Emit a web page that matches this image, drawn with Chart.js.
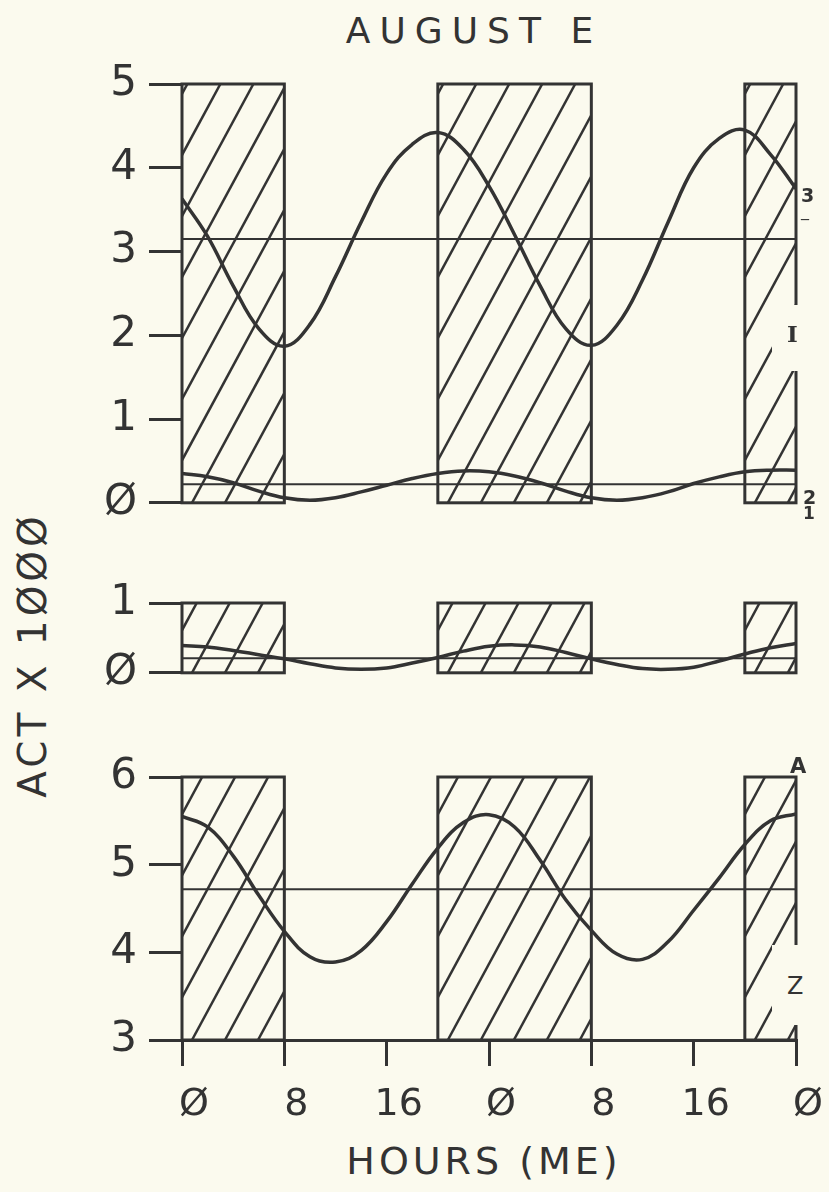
<!DOCTYPE html>
<html>
<head>
<meta charset="utf-8">
<script src="https://cdn.jsdelivr.net/npm/chart.js@4.4.1/dist/chart.umd.min.js"></script>
<style>
    html, body { margin: 0; padding: 0; background: #fbfaee; }
    #page { position: relative; width: 829px; height: 1192px; overflow: hidden; font-family: "DejaVu Sans", sans-serif; color: #333; }
    .wrap { position: absolute; left: 0; width: 829px; }
    .txt { position: absolute; white-space: nowrap; line-height: 1; transform: translate(-50%, -50%); }
    .note { position: absolute; white-space: nowrap; line-height: 1; font-family: "DejaVu Sans", sans-serif; font-weight: bold; color: #333; }
</style>
</head>
<body>
<div id="page">
    <div class="txt" style="left:474px;top:31px;font-size:36px;letter-spacing:9px;">AUGUST E</div>
    <div class="txt" style="left:32px;top:655px;font-size:39px;letter-spacing:4px;transform:translate(-50%,-50%) rotate(-90deg);">ACT X 1ØØØ</div>
    <div class="txt" style="left:484px;top:1161px;font-size:38px;letter-spacing:4px;">HOURS (ME)</div>

    <div class="wrap" style="top:40px;height:500px"><canvas id="chartTop" width="829" height="500"></canvas></div>
    <div class="wrap" style="top:560px;height:150px"><canvas id="chartMid" width="829" height="150"></canvas></div>
    <div class="wrap" style="top:730px;height:420px"><canvas id="chartLow" width="829" height="420"></canvas></div>

    <div class="note" style="left:801px;top:186px;font-size:19px;">3</div>
    <div class="note" style="left:801px;top:203px;font-size:16px;font-weight:normal;">_</div>
    <div class="note" style="left:772px;top:305px;width:30px;height:66px;background:#fbfaee;"></div>
    <div class="note" style="left:787px;top:322px;font-size:23px;font-family:'DejaVu Serif',serif;">I</div>
    <div class="note" style="left:803px;top:488px;font-size:19px;">2</div>
    <div class="note" style="left:803px;top:505px;font-size:17px;">1</div>
    <div class="note" style="left:790px;top:756px;font-size:21px;">A</div>
    <div class="note" style="left:772px;top:945px;width:32px;height:80px;background:#fbfaee;"></div>
    <div class="note" style="left:787px;top:974px;font-size:24px;font-weight:normal;">Z</div>
</div>

<script>
// Hours (two days, every 2 h)
const hours = [0, 2, 4, 6, 8, 10, 12, 14, 16, 18, 20, 22, 24, 26, 28, 30, 32, 34, 36, 38, 40, 42, 44, 46, 48];

// Dark periods (hatched)
const darkStart = [0, 20, 44];
const darkEnd = [8, 32, 48];

// Top panel: two fitted curves and their mesors
const topCurveA = [3.63, 3.18, 2.59, 2.08, 1.87, 2.13, 2.70, 3.35, 3.93, 4.28, 4.42, 4.22, 3.78, 3.20, 2.59, 2.08, 1.88, 2.12, 2.66, 3.35, 4.00, 4.35, 4.45, 4.16, 3.75];
const topCurveB = [0.35, 0.31, 0.24, 0.14, 0.06, 0.03, 0.06, 0.13, 0.21, 0.29, 0.35, 0.38, 0.37, 0.32, 0.24, 0.14, 0.06, 0.03, 0.06, 0.13, 0.23, 0.31, 0.37, 0.39, 0.39];
const topMesorA = 3.15;
const topMesorB = 0.22;

// Middle panel
const midCurve = [0.39, 0.37, 0.32, 0.26, 0.20, 0.13, 0.07, 0.05, 0.07, 0.14, 0.22, 0.31, 0.38, 0.40, 0.37, 0.29, 0.20, 0.12, 0.06, 0.05, 0.08, 0.17, 0.27, 0.36, 0.42];
const midMesor = 0.21;

// Lower panel
const lowCurve = [5.55, 5.43, 5.10, 4.65, 4.24, 3.95, 3.89, 4.02, 4.35, 4.78, 5.19, 5.48, 5.57, 5.43, 5.05, 4.60, 4.25, 3.98, 3.92, 4.12, 4.48, 4.85, 5.23, 5.50, 5.58];
const lowMesor = 4.72;

const INK = '#333333';
const FONT = '"DejaVu Sans", sans-serif';
const PLOT_LEFT = 182;
const HATCH_GAP = 33;
const HATCH_SLOPE = 1.85;

const darkHatch = {
    id: 'darkHatch',
    beforeDatasetsDraw(chart) {
        const { ctx, chartArea: a, scales: { x } } = chart;
        const h = a.bottom - a.top;
        const run = h / HATCH_SLOPE;
        ctx.save();
        ctx.strokeStyle = INK;
        for (let i = 0; i < darkStart.length; i++) {
            const x0 = x.getPixelForValue(darkStart[i]);
            const x1 = x.getPixelForValue(darkEnd[i]);
            ctx.save();
            ctx.beginPath();
            ctx.rect(x0, a.top, x1 - x0, h);
            ctx.clip();
            ctx.lineWidth = 2.5;
            for (let sx = x0 + 10 - Math.ceil(run / HATCH_GAP) * HATCH_GAP; sx < x1; sx += HATCH_GAP) {
                ctx.beginPath();
                ctx.moveTo(sx, a.bottom);
                ctx.lineTo(sx + run, a.top);
                ctx.stroke();
            }
            ctx.restore();
            ctx.lineWidth = 3;
            ctx.strokeRect(x0, a.top, x1 - x0, h);
        }
        ctx.restore();
    }
};

function toPoints(values) {
    return hours.map((h, i) => ({ x: h, y: values[i] }));
}

function curve(values) {
    return { data: toPoints(values), borderColor: INK, borderWidth: 3.5, pointRadius: 0, tension: 0.4, fill: false };
}

function mesor(value) {
    return { data: [{ x: 0, y: value }, { x: 48, y: value }], borderColor: INK, borderWidth: 2, pointRadius: 0, fill: false };
}

function zeroLabel(v) {
    return v === 0 ? 'Ø' : String(v);
}

function makeChart(id, datasets, yMin, yMax, pad, showX) {
    const ctx = document.getElementById(id).getContext('2d');
    return new Chart(ctx, {
        type: 'line',
        data: { datasets: datasets },
        plugins: [darkHatch],
        options: {
            responsive: false,
            animation: false,
            layout: { padding: { top: pad.top, bottom: pad.bottom, left: 0, right: 33 } },
            plugins: { legend: { display: false }, tooltip: { enabled: false } },
            scales: {
                x: {
                    type: 'linear',
                    min: 0,
                    max: 48,
                    display: showX,
                    afterFit: function(scale) { if (showX) scale.height = 95; },
                    border: { display: true, color: INK, width: 3 },
                    grid: { drawOnChartArea: false, tickLength: 26, lineWidth: 3, color: INK },
                    ticks: {
                        stepSize: 8,
                        autoSkip: false,
                        maxRotation: 0,
                        padding: 16,
                        labelOffset: 12,
                        color: INK,
                        font: { family: FONT, size: 38 },
                        callback: function(v) { return zeroLabel(v % 24); }
                    }
                },
                y: {
                    min: yMin,
                    max: yMax,
                    afterFit: function(scale) { scale.width = PLOT_LEFT; },
                    border: { display: false },
                    grid: { drawOnChartArea: false, tickLength: 33, lineWidth: 3, color: INK },
                    ticks: {
                        stepSize: 1,
                        padding: 12,
                        color: INK,
                        font: { family: FONT, size: 42 },
                        callback: zeroLabel
                    }
                }
            }
        }
    });
}

document.addEventListener('DOMContentLoaded', function() {
    makeChart('chartTop', [mesor(topMesorA), mesor(topMesorB), curve(topCurveA), curve(topCurveB)], 0, 5, { top: 44, bottom: 23 }, false);
    makeChart('chartMid', [mesor(midMesor), curve(midCurve)], 0, 1, { top: 43, bottom: 20 }, false);
    makeChart('chartLow', [mesor(lowMesor), curve(lowCurve)], 3, 6, { top: 47, bottom: 15 }, true);
});
</script>
</body>
</html>
